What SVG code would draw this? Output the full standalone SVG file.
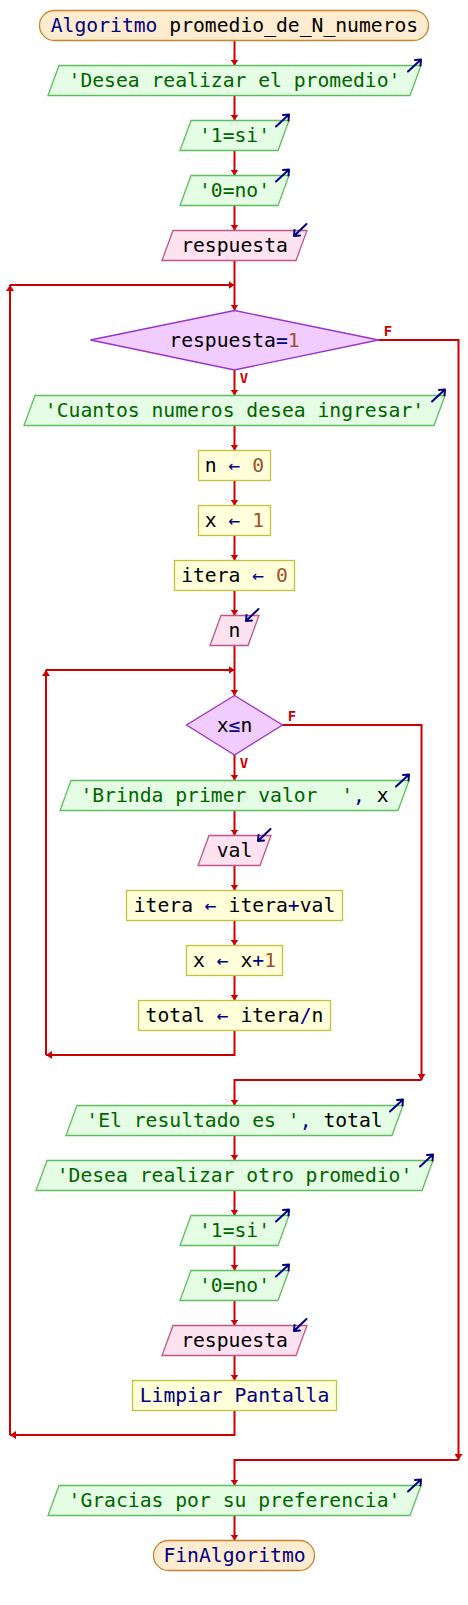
<svg xmlns="http://www.w3.org/2000/svg" width="468" height="1605" viewBox="0 0 468 1605">
<defs>
<style>
text{font-family:"DejaVu Sans Mono","Liberation Mono",monospace;font-size:19.7px;text-anchor:middle;fill:#000}
.kw{fill:#000080}
.st{fill:#006400}
.num{fill:#a0522d}
.op{fill:#000080}
.term{fill:#feecd0;stroke:#c8852e;stroke-width:1.3}
.out{fill:#e4fde4;stroke:#5cbf5c;stroke-width:1.3}
.inp{fill:#fde2f0;stroke:#c0558a;stroke-width:1.3}
.proc{fill:#ffffda;stroke:#c4c03c;stroke-width:1.3}
.dec{fill:#f0ccff;stroke:#9933cc;stroke-width:1.3}
.con{fill:none;stroke:#cc0000;stroke-width:2}
.arr{marker-end:url(#ah)}
.lbl{font-size:14px;font-weight:bold;fill:#cc0000}
.ico{fill:none;stroke:#000080;stroke-width:2;stroke-linecap:round;stroke-linejoin:round}
</style>
<marker id="ah" markerUnits="userSpaceOnUse" viewBox="-6 -4 6 8" refX="0" refY="0" markerWidth="6" markerHeight="8" orient="auto">
<path d="M-6,-4 L0,0 L-6,4 Z" fill="#cc0000"/>
</marker>
</defs>
<rect width="468" height="1605" fill="#fff"/>

<g id="connectors">
<path class="con arr" d="M234.5,40.5 V65.5"/>
<path class="con arr" d="M234.5,95.5 V120.5"/>
<path class="con arr" d="M234.5,150.5 V175.5"/>
<path class="con arr" d="M234.5,205.5 V230.5"/>
<path class="con arr" d="M234.5,260.5 V310.5"/>
<path class="con arr" d="M234.5,370 V395.5"/>
<path class="con arr" d="M234.5,425.5 V450.5"/>
<path class="con arr" d="M234.5,480.5 V505.5"/>
<path class="con arr" d="M234.5,535.5 V560.5"/>
<path class="con arr" d="M234.5,590.5 V615.5"/>
<path class="con arr" d="M234.5,645.5 V695.5"/>
<path class="con arr" d="M234.5,755 V780.5"/>
<path class="con arr" d="M234.5,810.5 V835.5"/>
<path class="con arr" d="M234.5,865.5 V890.5"/>
<path class="con arr" d="M234.5,920.5 V945.5"/>
<path class="con arr" d="M234.5,975.5 V1000.5"/>
<path class="con arr" d="M234.5,1030.5 V1055 H46"/>
<path class="con arr" d="M46,1055 V670"/>
<path class="con arr" d="M46,670 H234.5"/>
<path class="con arr" d="M282.5,725 H421.5 V1080"/>
<path class="con arr" d="M421.5,1080 H234.5 V1105.5"/>
<path class="con arr" d="M234.5,1135.5 V1160.5"/>
<path class="con arr" d="M234.5,1190.5 V1215.5"/>
<path class="con arr" d="M234.5,1245.5 V1270.5"/>
<path class="con arr" d="M234.5,1300.5 V1325.5"/>
<path class="con arr" d="M234.5,1355.5 V1380.5"/>
<path class="con arr" d="M234.5,1410.5 V1435 H10"/>
<path class="con arr" d="M10,1435 V285"/>
<path class="con arr" d="M10,285 H234.5"/>
<path class="con arr" d="M378.5,340 H458.5 V1460"/>
<path class="con arr" d="M458.5,1460 H234.5 V1485.5"/>
<path class="con arr" d="M234.5,1515.5 V1540.5"/>
<text class="lbl" x="388" y="336">F</text>
<text class="lbl" x="244" y="382.5">V</text>
<text class="lbl" x="292" y="721">F</text>
<text class="lbl" x="244" y="767.5">V</text>
</g>

<g id="n1">
<rect class="term" x="39.5" y="10.5" width="389" height="30" rx="15"/>
<text x="234.5" y="32"><tspan class="kw">Algoritmo</tspan> promedio_de_N_numeros</text>
</g>

<g id="n2">
<polygon class="out" points="59,65.5 421,65.5 410,95.5 48,95.5"/>
<text class="st" x="234.5" y="87">'Desea realizar el promedio'</text>
<path class="ico" d="M408,71.5 L421,59.5 M415,60 L421,59.5 L420.5,65.5"/>
</g>

<g id="n3">
<polygon class="out" points="191,120.5 289,120.5 278,150.5 180,150.5"/>
<text class="st" x="234.5" y="142">'1=si'</text>
<path class="ico" d="M276,126.5 L289,114.5 M283,115 L289,114.5 L288.5,120.5"/>
</g>

<g id="n4">
<polygon class="out" points="191,175.5 289,175.5 278,205.5 180,205.5"/>
<text class="st" x="234.5" y="197">'0=no'</text>
<path class="ico" d="M276,181.5 L289,169.5 M283,170 L289,169.5 L288.5,175.5"/>
</g>

<g id="n5">
<polygon class="inp" points="173,230.5 307,230.5 296,260.5 162,260.5"/>
<text x="234.5" y="252">respuesta</text>
<path class="ico" d="M306.5,224 L294,236 M294.5,230 L294,236 L300,235.5"/>
</g>

<g id="n6">
<polygon class="dec" points="234.5,310.5 378.5,340 234.5,370 90.5,340"/>
<text x="234.5" y="346.5">respuesta<tspan class="op">=</tspan><tspan class="num">1</tspan></text>
</g>

<g id="n7">
<polygon class="out" points="35,395.5 445,395.5 434,425.5 24,425.5"/>
<text class="st" x="234.5" y="417">'Cuantos numeros desea ingresar'</text>
<path class="ico" d="M432,401.5 L445,389.5 M439,390 L445,389.5 L444.5,395.5"/>
</g>

<g id="n8">
<rect class="proc" x="198.5" y="450.5" width="72" height="30"/>
<text x="234.5" y="472">n <tspan class="op">←</tspan> <tspan class="num">0</tspan></text>
</g>

<g id="n9">
<rect class="proc" x="198.5" y="505.5" width="72" height="30"/>
<text x="234.5" y="527">x <tspan class="op">←</tspan> <tspan class="num">1</tspan></text>
</g>

<g id="n10">
<rect class="proc" x="174.5" y="560.5" width="120" height="30"/>
<text x="234.5" y="582">itera <tspan class="op">←</tspan> <tspan class="num">0</tspan></text>
</g>

<g id="n11">
<polygon class="inp" points="221,615.5 259,615.5 248,645.5 210,645.5"/>
<text x="234.5" y="637">n</text>
<path class="ico" d="M258.5,609 L246,621 M246.5,615 L246,621 L252,620.5"/>
</g>

<g id="n12">
<polygon class="dec" points="234.5,695.5 282.5,725 234.5,755 186.5,725"/>
<text x="234.5" y="731.5">x<tspan class="op">≤</tspan>n</text>
</g>

<g id="n13">
<polygon class="out" points="71,780.5 409,780.5 398,810.5 60,810.5"/>
<text x="234.5" y="802" xml:space="preserve"><tspan class="st">'Brinda primer valor  '</tspan><tspan class="op">,</tspan> x</text>
<path class="ico" d="M396,786.5 L409,774.5 M403,775 L409,774.5 L408.5,780.5"/>
</g>

<g id="n14">
<polygon class="inp" points="209,835.5 271,835.5 260,865.5 198,865.5"/>
<text x="234.5" y="857">val</text>
<path class="ico" d="M270.5,829 L258,841 M258.5,835 L258,841 L264,840.5"/>
</g>

<g id="n15">
<rect class="proc" x="126.5" y="890.5" width="216" height="30"/>
<text x="234.5" y="912">itera <tspan class="op">←</tspan> itera<tspan class="op">+</tspan>val</text>
</g>

<g id="n16">
<rect class="proc" x="186.5" y="945.5" width="96" height="30"/>
<text x="234.5" y="967">x <tspan class="op">←</tspan> x<tspan class="op">+</tspan><tspan class="num">1</tspan></text>
</g>

<g id="n17">
<rect class="proc" x="138.5" y="1000.5" width="192" height="30"/>
<text x="234.5" y="1022">total <tspan class="op">←</tspan> itera<tspan class="op">/</tspan>n</text>
</g>

<g id="n18">
<polygon class="out" points="77,1105.5 403,1105.5 392,1135.5 66,1135.5"/>
<text x="234.5" y="1127" xml:space="preserve"><tspan class="st">'El resultado es '</tspan><tspan class="op">,</tspan> total</text>
<path class="ico" d="M390,1111.5 L403,1099.5 M397,1100 L403,1099.5 L402.5,1105.5"/>
</g>

<g id="n19">
<polygon class="out" points="47,1160.5 433,1160.5 422,1190.5 36,1190.5"/>
<text class="st" x="234.5" y="1182">'Desea realizar otro promedio'</text>
<path class="ico" d="M420,1166.5 L433,1154.5 M427,1155 L433,1154.5 L432.5,1160.5"/>
</g>

<g id="n20">
<polygon class="out" points="191,1215.5 289,1215.5 278,1245.5 180,1245.5"/>
<text class="st" x="234.5" y="1237">'1=si'</text>
<path class="ico" d="M276,1221.5 L289,1209.5 M283,1210 L289,1209.5 L288.5,1215.5"/>
</g>

<g id="n21">
<polygon class="out" points="191,1270.5 289,1270.5 278,1300.5 180,1300.5"/>
<text class="st" x="234.5" y="1292">'0=no'</text>
<path class="ico" d="M276,1276.5 L289,1264.5 M283,1265 L289,1264.5 L288.5,1270.5"/>
</g>

<g id="n22">
<polygon class="inp" points="173,1325.5 307,1325.5 296,1355.5 162,1355.5"/>
<text x="234.5" y="1347">respuesta</text>
<path class="ico" d="M306.5,1319 L294,1331 M294.5,1325 L294,1331 L300,1330.5"/>
</g>

<g id="n23">
<rect class="proc" x="132.5" y="1380.5" width="204" height="30"/>
<text class="kw" x="234.5" y="1402">Limpiar Pantalla</text>
</g>

<g id="n24">
<polygon class="out" points="59,1485.5 421,1485.5 410,1515.5 48,1515.5"/>
<text class="st" x="234.5" y="1507">'Gracias por su preferencia'</text>
<path class="ico" d="M408,1491.5 L421,1479.5 M415,1480 L421,1479.5 L420.5,1485.5"/>
</g>

<g id="n25">
<rect class="term" x="153.5" y="1540.5" width="161" height="30" rx="15"/>
<text class="kw" x="234.5" y="1562">FinAlgoritmo</text>
</g>
</svg>
